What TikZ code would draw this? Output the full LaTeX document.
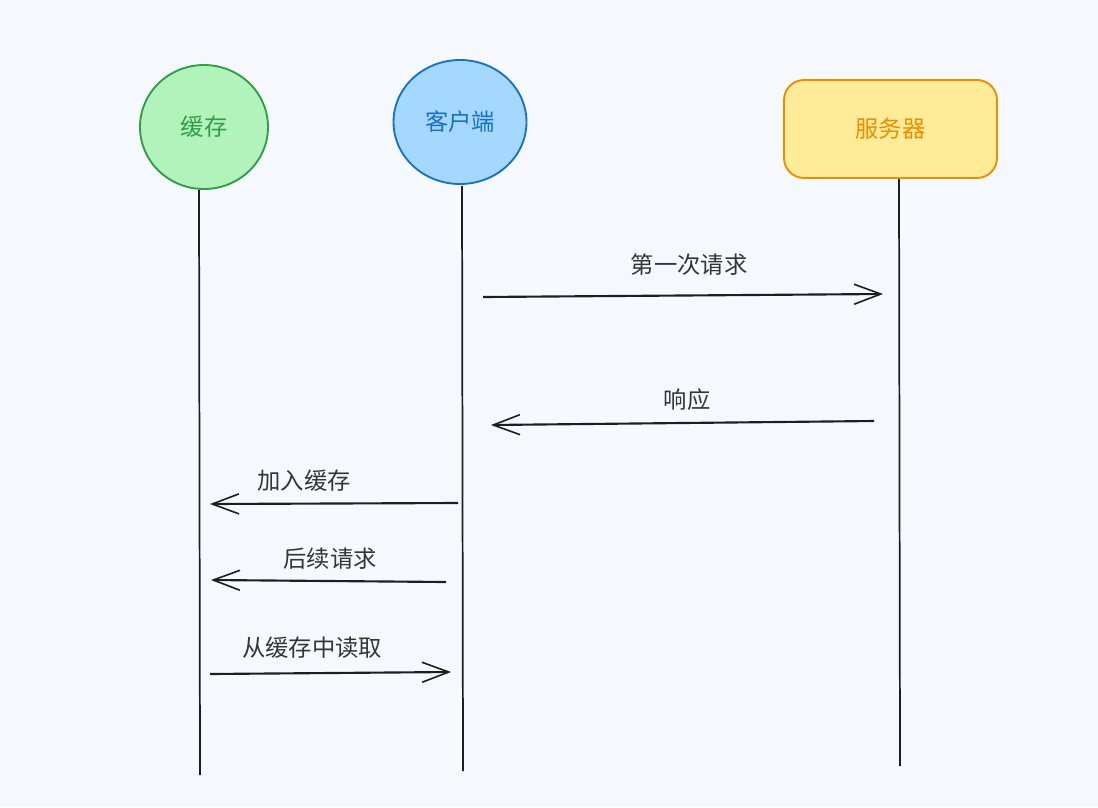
\documentclass[tikz,border=0pt]{standalone}
\usepackage{fontspec}
\setmainfont{Noto Sans CJK SC}
\usetikzlibrary{arrows.meta,shapes.geometric}
\definecolor{bg}{HTML}{F5F9FD}
\definecolor{ink}{HTML}{1E1E1E}
\definecolor{gfill}{HTML}{B2F2BB}
\definecolor{gdraw}{HTML}{2F9E44}
\definecolor{bfill}{HTML}{A5D8FF}
\definecolor{bdraw}{HTML}{1971C2}
\definecolor{yfill}{HTML}{FFEC99}
\definecolor{ydraw}{HTML}{F08C00}
\tikzset{
  actor/.style={ellipse, minimum width=128*0.75pt, minimum height=124*0.75pt, line width=1.4pt, font=\fontsize{17.5}{20}\selectfont, inner sep=0pt},
  lifeline/.style={draw=ink, line width=1.3pt},
  msg/.style={draw=ink, line width=1.6pt, -{Straight Barb[length=20pt,width=15pt,line width=1.2pt]}},
  lbl/.style={font=\fontsize{17.5}{20}\selectfont, text=ink!90}
}
\begin{document}
\begin{tikzpicture}[x=0.75pt,y=-0.75pt]
\fill[bg] (0,0) rectangle (1098,807);
\useasboundingbox (0,0) rectangle (1098,807);
% lifelines
\coordinate (c0) at (199,190); \coordinate (c1) at (200,775);
\coordinate (k0) at (462,186); \coordinate (k1) at (463,771);
\coordinate (s0) at (899,179); \coordinate (s1) at (900,766);
\draw[lifeline] (c0) -- (c1);
\draw[lifeline] (k0) -- (k1);
\draw[lifeline] (s0) -- (s1);
% actors
\node[actor, fill=gfill, draw=gdraw, text=gdraw] (cache) at (204,127) {缓存};
\node[actor, fill=bfill, draw=bdraw, text=bdraw, minimum width=133*0.75pt] (client) at (460,122) {客户端};
\node[draw=ydraw, fill=yfill, text=ydraw, line width=1.4pt, rounded corners=15pt, minimum width=213*0.75pt, minimum height=98*0.75pt, font=\fontsize{17.5}{20}\selectfont] (server) at (890.5,129) {服务器};
% messages
\coordinate (m1a) at (483,297); \coordinate (m1b) at (883,294);
\draw[msg] (m1a) -- (m1b);
\node[lbl] (l1) at (689,265) {第一次请求};
\coordinate (m2a) at (874,421); \coordinate (m2b) at (491,425);
\draw[msg] (m2a) -- (m2b);
\node[lbl] (l2) at (687,400) {响应};
\coordinate (m3a) at (458,503); \coordinate (m3b) at (210,504);
\draw[msg] (m3a) -- (m3b);
\node[lbl] (l3) at (304,481) {加入缓存};
\coordinate (m4a) at (446,582); \coordinate (m4b) at (211,580);
\draw[msg] (m4a) -- (m4b);
\node[lbl] (l4) at (330,559) {后续请求};
\coordinate (m5a) at (210,674); \coordinate (m5b) at (451,672);
\draw[msg] (m5a) -- (m5b);
\node[lbl] (l5) at (312,648) {从缓存中读取};
\end{tikzpicture}
\end{document}
